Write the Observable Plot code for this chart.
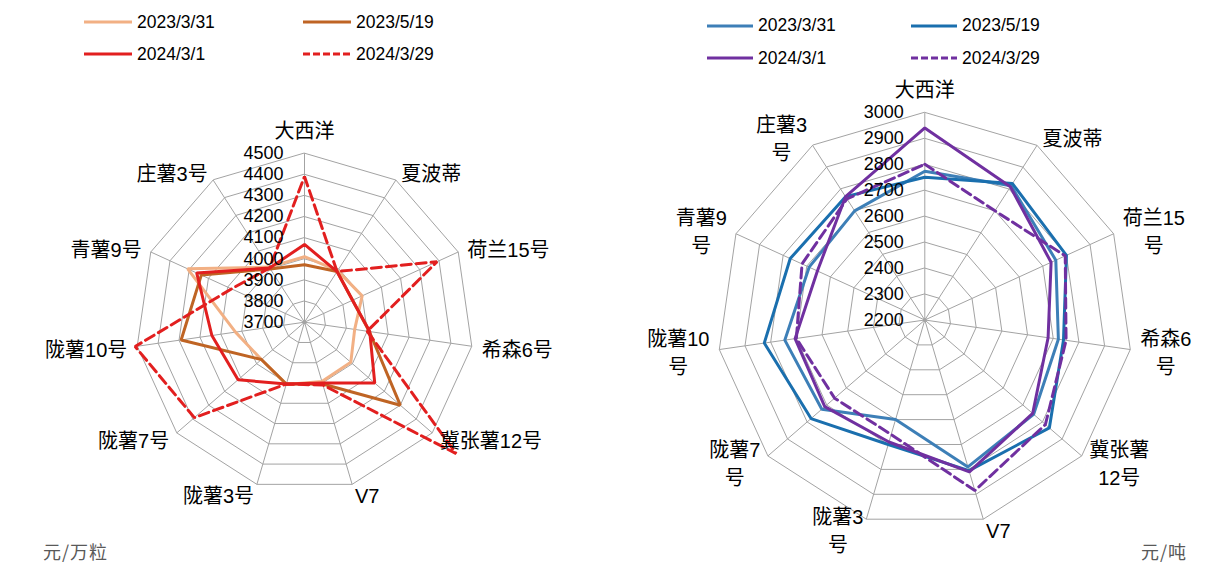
<!DOCTYPE html>
<html><head><meta charset="utf-8">
<script src="https://cdn.jsdelivr.net/npm/d3@7"></script>
<script src="https://cdn.jsdelivr.net/npm/@observablehq/plot@0.6"></script>
<style>
body{margin:0;background:#fff;}
#wrap{position:relative;width:1213px;height:567px;overflow:hidden;font-family:"Liberation Sans","Noto Sans CJK SC",sans-serif;}
.chart{position:absolute;top:0;}
.item{position:absolute;display:flex;align-items:center;white-space:nowrap;font-size:17.5px;color:#000;height:24px;}
.item svg{margin-right:5px;}
.unit{position:absolute;font-family:"Noto Sans CJK SC",sans-serif;font-size:18px;color:#595959;letter-spacing:1px;}
</style></head><body><div id="wrap"></div>
<script>
// ---- data ----
const categories = ["大西洋","夏波蒂","荷兰15号","希森6号","冀张薯12号","V7","陇薯3号","陇薯7号","陇薯10号","青薯9号","庄薯3号"];
const rightCategoryLabels = ["大西洋","夏波蒂","荷兰15\n号","希森6\n号","冀张薯\n12号","V7","陇薯3\n号","陇薯7\n号","陇薯10\n号","青薯9\n号","庄薯3\n号"];
const seriesNames = ["2023/3/31","2023/5/19","2024/3/1","2024/3/29"];

// left chart: 元/万粒
const seed_20230331 = [4010, 3990, 4000, 3940, 3990, 3992, 4007, 3970, 4030, 4308, 4010];
const seed_20230519 = [3972, 3985, 3950, 4010, 4300, 4005, 4005, 3970, 4290, 4237, 4000];
const seed_20240301 = [4068, 3985, 3950, 4012, 4140, 4000, 4005, 4116, 4143, 4261, 4005];
const seed_20240329 = [4390, 3985, 4390, 4000, 4650, 4010, 4005, 4390, 4510, 4080, 4005];
const seedTicks = [3700, 3800, 3900, 4000, 4100, 4200, 4300, 4400, 4500];

// right chart: 元/吨
const ton_20230331 = [2773, 2815, 2755, 2720, 2755, 2790, 2600, 2725, 2745, 2690, 2700];
const ton_20230519 = [2750, 2825, 2800, 2740, 2835, 2805, 2700, 2780, 2825, 2770, 2765];
const ton_20240301 = [2940, 2810, 2735, 2680, 2750, 2810, 2690, 2710, 2705, 2655, 2765];
const ton_20240329 = [2800, 2700, 2795, 2750, 2815, 2885, 2660, 2660, 2700, 2720, 2755];
const tonTicks = [2200, 2300, 2400, 2500, 2600, 2700, 2800, 2900, 3000];

// ---- styles ----
const leftColors = ["#F2B084", "#BF6424", "#E21F1F", "#E21F1F"];
const rightColors = ["#3D7FB7", "#1A6FAE", "#7030A0", "#7030A0"];
const dashes = [null, null, null, "10,5"];
const FONT = '"Liberation Sans","Noto Sans CJK SC",sans-serif';

const canvas = document.createElement("canvas");
const ctx = canvas.getContext("2d");
function textWidth(s, size) {
  ctx.font = `${size}px ${FONT}`;
  return Math.max(...s.split("\n").map(l => ctx.measureText(l).width));
}

function radar({labels, series, colors, ticks, width, height, cx, cy, R, labelSize, lineHeight}) {
  const n = labels.length, min = ticks[0], max = ticks[ticks.length - 1];
  const ang = k => 2 * Math.PI * k / n;
  const rad = v => (v - min) / (max - min);
  const polar = (r, k) => ({x: r * Math.sin(ang(k)), y: r * Math.cos(ang(k))});
  const rings = ticks.slice(1).flatMap(t => labels.map((_, k) => ({t, ...polar(rad(t), k)})));
  const spokes = labels.map((_, k) => polar(1, k));
  const labelRows = labels.map((l, k) => {
    const s = Math.sin(ang(k)), c = Math.cos(ang(k));
    const side = s > 0.05 ? 1 : s < -0.05 ? -1 : 0;
    const off = side === 0 ? 1 + 24 / R : 1 + 10 / R;
    const w = textWidth(l, labelSize);
    return {l, x: off * s + side * (w / 2) / R, y: off * c};
  });
  const marks = [
    Plot.line(rings, {x: "x", y: "y", z: "t", curve: "linear-closed", stroke: "#a3a3a3", strokeWidth: 1}),
    Plot.link(spokes, {x1: 0, y1: 0, x2: "x", y2: "y", stroke: "#a3a3a3", strokeWidth: 1}),
    Plot.dot([0], {x: 0, y: 0, r: 2, fill: "#a3a3a3", stroke: null})
  ];
  series.forEach((vals, i) => {
    const rows = vals.map((v, k) => ({name: seriesNames[i], ...polar(rad(v), k)}));
    marks.push(Plot.line(rows, {x: "x", y: "y", curve: "linear-closed", stroke: colors[i], strokeWidth: 3,
      strokeDasharray: dashes[i] || undefined, strokeLinejoin: "miter"}));
  });
  marks.push(Plot.text(ticks, {x: 0, y: t => rad(t), text: t => String(t), textAnchor: "end", dx: -21,
    fontSize: 18, fill: "#000"}));
  marks.push(Plot.text(labelRows, {x: "x", y: "y", text: "l", textAnchor: "middle", lineAnchor: "middle",
    fontSize: labelSize, lineHeight, fill: "#000"}));
  return Plot.plot({
    width, height, margin: 0,
    style: {fontFamily: FONT, background: "transparent", overflow: "visible"},
    x: {type: "linear", domain: [-cx / R, (width - cx) / R], range: [0, width], axis: null},
    y: {type: "linear", domain: [-(height - cy) / R, cy / R], range: [height, 0], axis: null},
    marks
  });
}

const wrap = document.getElementById("wrap");

const left = radar({labels: categories, series: [seed_20230331, seed_20230519, seed_20240301, seed_20240329],
  colors: leftColors, ticks: seedTicks, width: 606, height: 567, cx: 304, cy: 321.7, R: 169, labelSize: 20, lineHeight: 1.4});
left.classList.add("chart"); left.style.left = "0px";
wrap.appendChild(left);

const right = radar({labels: rightCategoryLabels, series: [ton_20230331, ton_20230519, ton_20240301, ton_20240329],
  colors: rightColors, ticks: tonTicks, width: 607, height: 567, cx: 318.3, cy: 319.5, R: 207.6, labelSize: 20, lineHeight: 1.4});
right.classList.add("chart"); right.style.left = "606px";
wrap.appendChild(right);

// ---- legends ----
function legendItem(x, y, len, color, dash, label, dashLegend) {
  const d = document.createElement("div");
  d.className = "item";
  d.style.left = x + "px"; d.style.top = (y - 12) + "px";
  d.innerHTML = `<svg width="${len}" height="6"><line x1="0" y1="3" x2="${len}" y2="3" stroke="${color}" stroke-width="3"${dash ? ` stroke-dasharray="${dashLegend}"` : ""}/></svg><span>${label}</span>`;
  wrap.appendChild(d);
}
const leftLegendPos = [[84, 22.3], [303, 22.3], [84, 54], [303, 54]];
seriesNames.forEach((s, i) => legendItem(leftLegendPos[i][0], leftLegendPos[i][1], 48, leftColors[i], dashes[i], s, "7,3"));
const rightLegendPos = [[707, 25.7], [911, 25.7], [707, 58.3], [911, 58.3]];
seriesNames.forEach((s, i) => legendItem(rightLegendPos[i][0], rightLegendPos[i][1], 46, rightColors[i], dashes[i], s, "7,3"));

// ---- unit captions ----
function unit(x, y, t) {
  const d = document.createElement("div");
  d.className = "unit"; d.textContent = t;
  d.style.left = x + "px"; d.style.top = (y - 13) + "px";
  wrap.appendChild(d);
}
unit(43, 551, "元/万粒");
unit(1141, 551, "元/吨");
</script></body></html>
